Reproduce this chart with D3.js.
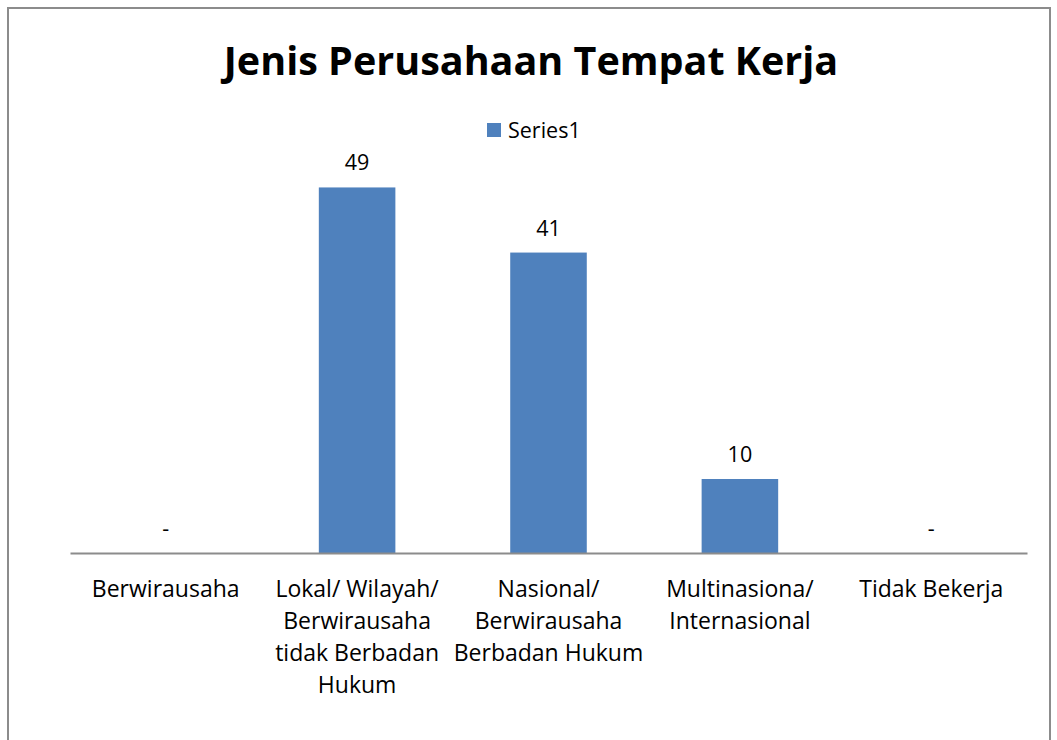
<!DOCTYPE html>
<html>
<head>
<meta charset="utf-8">
<script src="https://cdn.jsdelivr.net/npm/d3@7"></script>
<style>
  body { margin: 0; background: #fff; }
  text { font-family: "Open Sans", "Noto Sans", sans-serif; fill: #000; }
</style>
</head>
<body>
<svg width="1057" height="740"></svg>
<script>
// data
var categories = ['Berwirausaha', 'Lokal/ Wilayah/ Berwirausaha tidak Berbadan Hukum', 'Nasional/ Berwirausaha Berbadan Hukum', 'Multinasiona/ Internasional', 'Tidak Bekerja'];
var categoryLines = [
  ['Berwirausaha'],
  ['Lokal/ Wilayah/', 'Berwirausaha', 'tidak Berbadan', 'Hukum'],
  ['Nasional/', 'Berwirausaha', 'Berbadan Hukum'],
  ['Multinasiona/', 'Internasional'],
  ['Tidak Bekerja']
];
var values = [0, 49.4, 40.6, 10.0, 0];
var seriesName = 'Series1';
var chartTitle = 'Jenis Perusahaan Tempat Kerja';

var svg = d3.select('svg');
var barColor = '#4F81BD';

// chart border
svg.append('rect').attr('x', 8).attr('y', 8).attr('width', 1042).attr('height', 760)
  .style('fill', 'none').style('stroke', '#8c8c8c').style('stroke-width', 2);

// title
svg.append('text').attr('x', 531).attr('y', 75).style('text-anchor', 'middle')
  .style('font-weight', 'bold').style('font-size', '39.5px').text(chartTitle);

// legend
var legend_g = svg.append('g').attr('transform', 'translate(487,123)');
legend_g.append('rect').attr('width', 14).attr('height', 14).style('fill', barColor);
legend_g.append('text').attr('x', 21).attr('y', 15).style('font-size', '21.5px').text(seriesName);

// scales
var x = d3.scaleBand().domain(categories).range([70, 1027]).paddingInner(0.6).paddingOuter(0.3);
var y = d3.scaleLinear().domain([0, 60]).range([553, 109]);

// bars
svg.selectAll('.bar').data(values).enter().append('rect')
  .attr('class', 'bar')
  .attr('x', function(d, i){ return x(categories[i]); })
  .attr('y', function(d){ return y(d); })
  .attr('width', x.bandwidth())
  .attr('height', function(d){ return y(0) - y(d); })
  .style('fill', barColor);

// value labels, zero shown as "-"
svg.selectAll('.val').data(values).enter().append('text')
  .attr('class', 'val')
  .attr('x', function(d, i){ return x(categories[i]) + x.bandwidth() / 2; })
  .attr('y', function(d){ return y(d) - 17; })
  .style('text-anchor', 'middle').style('font-size', '21.5px')
  .text(function(d){ return d === 0 ? '-' : d3.format('.0f')(d); });

// category axis
var xAxis = svg.append('g').attr('transform', 'translate(0,553)')
  .call(d3.axisBottom(x).tickSize(0).tickFormat(''));
xAxis.select('.domain').style('stroke', '#8c8c8c').style('stroke-width', 2);

// wrapped category labels
categories.forEach(function(c, i){
  var t = svg.append('text').style('text-anchor', 'middle').style('font-size', '23px');
  categoryLines[i].forEach(function(line, j){
    t.append('tspan').attr('x', x(c) + x.bandwidth() / 2).attr('y', 597 + j * 32).text(line);
  });
});
</script>
</body>
</html>
